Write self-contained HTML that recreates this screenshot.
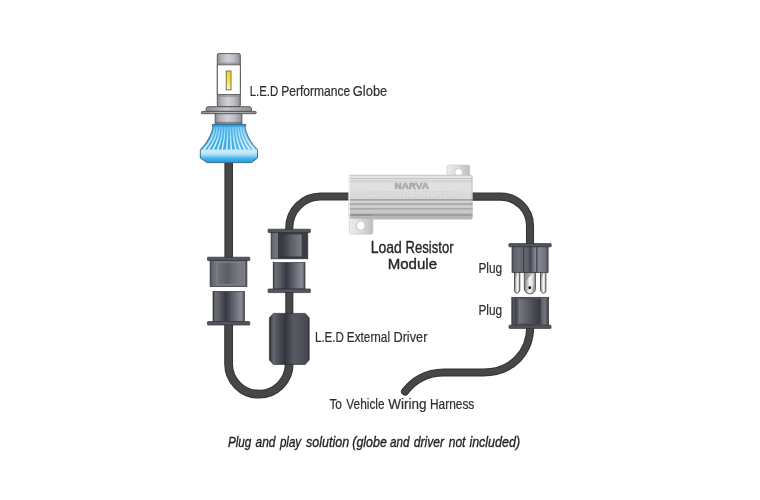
<!DOCTYPE html>
<html lang="en">
<head>
<meta charset="utf-8">
<title>Load Resistor Module wiring diagram</title>
<style>
html,body{margin:0;padding:0;background:#fff;}
body{width:760px;height:500px;overflow:hidden;}
svg{display:block;}
text{font-family:"Liberation Sans",sans-serif;fill:#2e2e2e;}
svg{will-change:transform;}
.lbl text{font-size:15px;stroke:#2e2e2e;stroke-width:0.2px;}
.big text{font-size:16.1px;fill:#262626;stroke:#262626;stroke-width:0.35px;}
.cap text{font-size:15.3px;font-style:italic;fill:#1e1e1e;stroke:#1e1e1e;stroke-width:0.35px;}
</style>
</head>
<body>
<svg width="760" height="500" viewBox="0 0 760 500">
<defs>
  <linearGradient id="gMetal" x1="0" x2="1" y1="0" y2="0">
    <stop offset="0" stop-color="#88888c"/>
    <stop offset="0.15" stop-color="#aeaeb4"/>
    <stop offset="0.45" stop-color="#d0d0d6"/>
    <stop offset="0.7" stop-color="#c0c0c6"/>
    <stop offset="0.88" stop-color="#a4a4aa"/>
    <stop offset="1" stop-color="#8c8c90"/>
  </linearGradient>
  <linearGradient id="gFlange" x1="0" x2="1" y1="0" y2="0">
    <stop offset="0" stop-color="#8a8a8e"/>
    <stop offset="0.45" stop-color="#c2c2c8"/>
    <stop offset="1" stop-color="#8e8e92"/>
  </linearGradient>
  <linearGradient id="gLed" x1="0" x2="0" y1="0" y2="1">
    <stop offset="0" stop-color="#f3d61c"/>
    <stop offset="0.55" stop-color="#f7e455"/>
    <stop offset="1" stop-color="#fdf8c4"/>
  </linearGradient>
  <linearGradient id="gBlueTop" x1="0" x2="1" y1="0" y2="0">
    <stop offset="0" stop-color="#2ea7e7"/>
    <stop offset="0.4" stop-color="#33aae8"/>
    <stop offset="0.7" stop-color="#4db5ec"/>
    <stop offset="1" stop-color="#5dbcee"/>
  </linearGradient>
  <linearGradient id="gStreak" gradientUnits="userSpaceOnUse" x1="0" x2="0" y1="126" y2="149.6">
    <stop offset="0" stop-color="#e4f4fd" stop-opacity="0.35"/>
    <stop offset="0.5" stop-color="#e4f4fd" stop-opacity="0.7"/>
    <stop offset="1" stop-color="#f2fafe" stop-opacity="0.95"/>
  </linearGradient>
  <linearGradient id="gBlueBand" x1="0" x2="0" y1="0" y2="1">
    <stop offset="0" stop-color="#d4effc"/>
    <stop offset="0.28" stop-color="#bfe7fa"/>
    <stop offset="0.48" stop-color="#93d4f6"/>
    <stop offset="0.65" stop-color="#4ab6ec"/>
    <stop offset="0.85" stop-color="#2aa8e6"/>
    <stop offset="1" stop-color="#2a9fe0"/>
  </linearGradient>
  <linearGradient id="gConnA" x1="0" x2="1" y1="0" y2="0">
    <stop offset="0" stop-color="#4a4c54"/>
    <stop offset="0.06" stop-color="#66686f"/>
    <stop offset="0.18" stop-color="#787a82"/>
    <stop offset="0.5" stop-color="#70727a"/>
    <stop offset="0.93" stop-color="#70727a"/>
    <stop offset="1" stop-color="#4a4c54"/>
  </linearGradient>
  <linearGradient id="gConnB" x1="0" x2="1" y1="0" y2="0">
    <stop offset="0" stop-color="#34363c"/>
    <stop offset="0.07" stop-color="#6c6e76"/>
    <stop offset="0.2" stop-color="#5c5e66"/>
    <stop offset="0.41" stop-color="#353843"/>
    <stop offset="0.6" stop-color="#585a64"/>
    <stop offset="0.8" stop-color="#7a7c86"/>
    <stop offset="0.91" stop-color="#888a94"/>
    <stop offset="0.97" stop-color="#62646c"/>
    <stop offset="1" stop-color="#3a3c42"/>
  </linearGradient>
  <linearGradient id="gDriver" x1="0" x2="1" y1="0" y2="0">
    <stop offset="0" stop-color="#2e3036"/>
    <stop offset="0.1" stop-color="#64666e"/>
    <stop offset="0.26" stop-color="#484a52"/>
    <stop offset="0.4" stop-color="#32353f"/>
    <stop offset="0.6" stop-color="#585a64"/>
    <stop offset="0.78" stop-color="#50525a"/>
    <stop offset="0.95" stop-color="#484a52"/>
    <stop offset="1" stop-color="#303238"/>
  </linearGradient>
  <linearGradient id="gInL" x1="0" x2="1" y1="0" y2="0">
    <stop offset="0" stop-color="#70727a"/>
    <stop offset="0.2" stop-color="#666870"/>
    <stop offset="0.38" stop-color="#5c5e66"/>
    <stop offset="0.6" stop-color="#6c6e76"/>
    <stop offset="0.8" stop-color="#787a82"/>
    <stop offset="1" stop-color="#787a82"/>
  </linearGradient>
  <linearGradient id="gConnR" x1="0" x2="1" y1="0" y2="0">
    <stop offset="0" stop-color="#4a4c54"/>
    <stop offset="0.05" stop-color="#6a6c76"/>
    <stop offset="0.18" stop-color="#74767e"/>
    <stop offset="0.2" stop-color="#33353d"/>
    <stop offset="0.83" stop-color="#3c3e46"/>
    <stop offset="1" stop-color="#3a3c44"/>
  </linearGradient>
  <linearGradient id="gInR" x1="0" x2="1" y1="0" y2="0">
    <stop offset="0" stop-color="#33353d"/>
    <stop offset="0.25" stop-color="#3e4048"/>
    <stop offset="0.55" stop-color="#5a5c66"/>
    <stop offset="0.95" stop-color="#787a84"/>
    <stop offset="1" stop-color="#787a84"/>
  </linearGradient>
  <linearGradient id="gPlugL" x1="0" x2="1" y1="0" y2="0">
    <stop offset="0" stop-color="#4a4c54"/>
    <stop offset="0.12" stop-color="#5e6068"/>
    <stop offset="0.5" stop-color="#6c6e78"/>
    <stop offset="1" stop-color="#63656f"/>
  </linearGradient>
  <linearGradient id="gPlugC" x1="0" x2="1" y1="0" y2="0">
    <stop offset="0" stop-color="#6e707a"/>
    <stop offset="0.3" stop-color="#5c5e68"/>
    <stop offset="0.52" stop-color="#454852"/>
    <stop offset="0.75" stop-color="#70727c"/>
    <stop offset="0.95" stop-color="#8c8e98"/>
    <stop offset="1" stop-color="#8c8e98"/>
  </linearGradient>
  <linearGradient id="gPlugR" x1="0" x2="1" y1="0" y2="0">
    <stop offset="0" stop-color="#7c7e88"/>
    <stop offset="0.3" stop-color="#82848e"/>
    <stop offset="0.7" stop-color="#74767f"/>
    <stop offset="0.92" stop-color="#5a5c64"/>
    <stop offset="1" stop-color="#3c3e46"/>
  </linearGradient>
  <linearGradient id="gPlugB" x1="0" x2="1" y1="0" y2="0">
    <stop offset="0" stop-color="#3c3e46"/>
    <stop offset="0.06" stop-color="#585a62"/>
    <stop offset="0.1" stop-color="#3e4048"/>
    <stop offset="0.14" stop-color="#54565e"/>
    <stop offset="0.5" stop-color="#54565e"/>
    <stop offset="0.8" stop-color="#5c5e66"/>
    <stop offset="0.9" stop-color="#74767e"/>
    <stop offset="0.97" stop-color="#50525a"/>
    <stop offset="1" stop-color="#34363c"/>
  </linearGradient>
  <linearGradient id="gInL2" x1="0" x2="1" y1="0" y2="0">
    <stop offset="0" stop-color="#787a84"/>
    <stop offset="0.45" stop-color="#5a5c66"/>
    <stop offset="1" stop-color="#36383f"/>
  </linearGradient>
  <linearGradient id="gRes" gradientUnits="userSpaceOnUse" x1="0" x2="0" y1="174.7" y2="218.5">
    <stop offset="0.0000" stop-color="#c8c8c8"/>
    <stop offset="0.0171" stop-color="#c8c8c8"/>
    <stop offset="0.0285" stop-color="#e4e4e4"/>
    <stop offset="0.0651" stop-color="#e4e4e4"/>
    <stop offset="0.0765" stop-color="#c4c4c4"/>
    <stop offset="0.0879" stop-color="#c4c4c4"/>
    <stop offset="0.0993" stop-color="#e0e0e0"/>
    <stop offset="0.1244" stop-color="#e0e0e0"/>
    <stop offset="0.1358" stop-color="#d4d4d4"/>
    <stop offset="0.1724" stop-color="#d4d4d4"/>
    <stop offset="0.1838" stop-color="#e0e0e0"/>
    <stop offset="0.3619" stop-color="#e0e0e0"/>
    <stop offset="0.3733" stop-color="#dcdcdc"/>
    <stop offset="0.5491" stop-color="#d8d8d8"/>
    <stop offset="0.5605" stop-color="#a4a4a4"/>
    <stop offset="0.5856" stop-color="#a4a4a4"/>
    <stop offset="0.5970" stop-color="#d4d4d4"/>
    <stop offset="0.6450" stop-color="#d4d4d4"/>
    <stop offset="0.6564" stop-color="#acacac"/>
    <stop offset="0.6815" stop-color="#acacac"/>
    <stop offset="0.6929" stop-color="#cccccc"/>
    <stop offset="0.7546" stop-color="#cccccc"/>
    <stop offset="0.7660" stop-color="#a8a8a8"/>
    <stop offset="0.7888" stop-color="#a8a8a8"/>
    <stop offset="0.8002" stop-color="#c8c8c8"/>
    <stop offset="0.8824" stop-color="#c8c8c8"/>
    <stop offset="0.8938" stop-color="#9e9e9e"/>
    <stop offset="0.9418" stop-color="#9e9e9e"/>
    <stop offset="0.9532" stop-color="#b8b8b8"/>
    <stop offset="1.0000" stop-color="#b8b8b8"/>
  </linearGradient>
  <linearGradient id="gTab" x1="0" x2="1" y1="0" y2="0">
    <stop offset="0" stop-color="#ededed"/>
    <stop offset="0.5" stop-color="#dcdcdc"/>
    <stop offset="1" stop-color="#bdbdbd"/>
  </linearGradient>
  <linearGradient id="gPin" x1="0" x2="1" y1="0" y2="0">
    <stop offset="0" stop-color="#7c7c7c"/>
    <stop offset="0.3" stop-color="#c9c9c9"/>
    <stop offset="0.5" stop-color="#fafafa"/>
    <stop offset="0.75" stop-color="#dcdcdc"/>
    <stop offset="1" stop-color="#858585"/>
  </linearGradient>
</defs>
<rect width="760" height="500" fill="#ffffff"/>

<!-- cables -->
<g fill="none" stroke-linecap="butt">
  <g stroke="#343435">
    <path d="M228.7 160 V258" stroke-width="8.6"/>
    <path d="M228.6 323 V363.8 A30.3 30.4 0 0 0 289.2 363.8 V362" stroke-width="8.8"/>
    <path d="M289.3 314 V291" stroke-width="8.1"/>
    <path d="M289.3 230 V227.6 A31.2 31.2 0 0 1 320.5 196.5 H350" stroke-width="8.1"/>
    <path d="M471 196.6 H500.8 A29.2 29.2 0 0 1 530 225.8 V245" stroke-width="8.1"/>
    <path d="M530.2 327 C530 351.5 513 372.4 483 372.4 L444 372.4 C425.5 372.4 412.5 381.5 405 391.6" stroke-width="8.0" stroke-linecap="round"/>
  </g>
  <g stroke="#484748">
    <path d="M228.9 160 V258" stroke-width="6.4"/>
    <path d="M228.6 323 V363.8 A30.3 30.4 0 0 0 289.2 363.8 V362" stroke-width="6.7"/>
    <path d="M289.3 314 V291" stroke-width="6.0"/>
    <path d="M289.3 230 V227.6 A31.2 31.2 0 0 1 320.5 196.5 H350" stroke-width="6.0"/>
    <path d="M471 196.6 H500.8 A29.2 29.2 0 0 1 530 225.8 V245" stroke-width="6.0"/>
    <path d="M530.2 327 C530 351.5 513 372.4 483 372.4 L444 372.4 C425.5 372.4 412.5 381.5 405 391.6" stroke-width="5.9" stroke-linecap="round"/>
  </g>
</g>

<!-- globe -->
<g id="globe">
  <g stroke="#505054" stroke-width="0.9">
    <rect x="217.3" y="53.6" width="23" height="53" rx="1.4" fill="url(#gMetal)"/>
    <rect x="217.3" y="64.8" width="23" height="29.8" fill="#fdfdfd"/>
    <rect x="215.2" y="113.4" width="26.7" height="10.8" fill="url(#gMetal)"/>
    <path d="M207.4 106.7 H250.2 L251.4 108 V111.4 H206.2 V108 Z" fill="url(#gFlange)"/>
    <rect x="201.4" y="111.4" width="54.8" height="2.3" rx="0.8" fill="url(#gFlange)"/>
  </g>
  <rect x="217.8" y="62.6" width="22" height="1.8" fill="#808084" opacity="0.55"/>
  <rect x="217.8" y="95" width="22" height="2" fill="#808084" opacity="0.5"/>
  <rect x="215.7" y="121.8" width="25.7" height="2" fill="#606064" opacity="0.6"/>
  <rect x="226.2" y="71" width="4.8" height="18.8" fill="url(#gLed)" stroke="#5a5738" stroke-width="0.8"/>
  <!-- blue heat sink -->
  <path d="M212.5 124.4 H245.6 V126.4 H244.8 C246 133 249.6 140.6 254.4 146.4 L257.5 149.4 V158 L251.6 162.6 H207 L200.3 158 V149.4 L203.4 146.4 C208.2 140.6 212 133 213.2 126.4 H212.5 Z" fill="url(#gBlueTop)"/>
  <g fill="none" stroke="url(#gStreak)" stroke-linecap="butt">
    <path d="M214.8 126.6 C214.2 135 209.8 143 203.6 149.6" stroke-width="1.75"/>
    <path d="M217.4 126.6 C216.9 135 213.3 143 208.2 149.6" stroke-width="1.70"/>
    <path d="M220.0 126.6 C219.6 135 216.8 143 212.8 149.6" stroke-width="1.66"/>
    <path d="M222.5 126.6 C222.3 135 220.3 143 217.5 149.6" stroke-width="1.61"/>
    <path d="M225.1 126.6 C225.0 135 223.8 143 222.1 149.6" stroke-width="1.57"/>
    <path d="M227.7 126.6 C227.7 135 227.3 143 226.7 149.6" stroke-width="1.52"/>
    <path d="M230.3 126.6 C230.3 135 230.7 143 231.3 149.6" stroke-width="1.52"/>
    <path d="M232.9 126.6 C233.0 135 234.2 143 235.9 149.6" stroke-width="1.57"/>
    <path d="M235.5 126.6 C235.7 135 237.7 143 240.5 149.6" stroke-width="1.61"/>
    <path d="M238.0 126.6 C238.4 135 241.2 143 245.2 149.6" stroke-width="1.66"/>
    <path d="M240.6 126.6 C241.1 135 244.7 143 249.8 149.6" stroke-width="1.70"/>
    <path d="M243.2 126.6 C243.8 135 248.2 143 254.4 149.6" stroke-width="1.75"/>
  </g>
  <rect x="212.5" y="124.4" width="33.1" height="2.2" fill="#29a3e6"/>
  <path d="M200.3 149.4 H257.5 V158 L251.6 162.6 H207 L200.3 158 Z" fill="url(#gBlueBand)"/>
  <path d="M212.5 124.4 H245.6 V126.4 H244.8 C246 133 249.6 140.6 254.4 146.4 L257.5 149.4 V158 L251.6 162.6 H207 L200.3 158 V149.4 L203.4 146.4 C208.2 140.6 212 133 213.2 126.4 H212.5 Z" fill="none" stroke="#3f6480" stroke-width="0.9" stroke-linejoin="round"/>
</g>

<!-- left connector -->
<g stroke="#303137" stroke-width="0.7">
  <rect x="207.5" y="257.2" width="42.3" height="3.4" rx="0.6" fill="#54565e"/>
  <rect x="210.1" y="260.6" width="36.8" height="26" fill="url(#gConnA)"/>
  <rect x="217" y="262.6" width="27.6" height="21.6" fill="url(#gInL)" stroke="#8a8c94" stroke-width="0.5"/>
  <rect x="213" y="291.4" width="31.4" height="30.2" fill="url(#gConnB)"/>
  <rect x="207.5" y="321.6" width="42.3" height="3.4" rx="0.6" fill="#54565e"/>
</g>
<!-- right connector -->
<g stroke="#303137" stroke-width="0.7">
  <rect x="268.1" y="229.2" width="42.3" height="3.4" rx="0.6" fill="#54565e"/>
  <rect x="271.1" y="232.6" width="36.7" height="26.2" fill="url(#gConnR)"/>
  <rect x="278.1" y="234.4" width="23.6" height="22" fill="url(#gInR)" stroke="none"/>
  <rect x="273.2" y="262.6" width="31.8" height="26.4" fill="url(#gConnB)"/>
  <rect x="268.1" y="289" width="42.3" height="3.6" rx="0.6" fill="#54565e"/>
</g>
<!-- driver -->
<path d="M273.4 313.4 H305.2 L309.2 317.8 V360 L305.2 364.4 H273.4 L269.4 360 V317.8 Z" fill="url(#gDriver)" stroke="#303137" stroke-width="0.7"/>

<!-- resistor -->
<g id="resistor">
  <rect x="446.9" y="165" width="22.8" height="14" rx="2" fill="url(#gTab)" stroke="#c6c6c6" stroke-width="0.6"/>
  <circle cx="458.6" cy="172.4" r="4" fill="#fff" stroke="#b9b9b9" stroke-width="0.7"/>
  <rect x="349.3" y="214" width="23.6" height="20.2" rx="2" fill="url(#gTab)" stroke="#c6c6c6" stroke-width="0.6"/>
  <ellipse cx="360.8" cy="225.6" rx="4.3" ry="4.6" fill="#fff" stroke="#b3b3b3" stroke-width="0.7"/>
  <path d="M348.5 174.7 H470.4 Q472.6 174.9 472.6 177.2 V217.2 Q472.6 219.4 470.4 219.4 H375 L348.5 218.6 Z" fill="url(#gRes)"/>
  <rect x="348.5" y="174.9" width="1.5" height="43.4" fill="#f4f4f4" opacity="0.8"/>
  <rect x="471.4" y="176" width="1.2" height="41.5" fill="#b0b0b0" opacity="0.5"/>
  <rect x="351.5" y="214" width="20" height="1.8" fill="#8c8c8c" opacity="0.6"/>
  <text x="411.7" y="189.1" text-anchor="middle" font-size="9.6" font-weight="bold" style="fill:#acacac;stroke:#acacac;stroke-width:0.7px;stroke-linejoin:round" textLength="34.3" lengthAdjust="spacingAndGlyphs">NARVA</text>
  <text x="412.3" y="197.3" text-anchor="middle" font-size="6.4" style="fill:#f4f4f4;stroke:#b8b8b8;stroke-width:0.5px;paint-order:stroke;font-family:'Liberation Mono',monospace" textLength="84" lengthAdjust="spacingAndGlyphs">12V 50W LOAD RESISTOR</text>
</g>

<!-- plug top -->
<g id="plugTop">
  <g stroke="#48484c" stroke-width="0.9" stroke-linejoin="round">
    <path d="M514.5 271 H519.8 V289.4 C519.6 291.6 518.4 293.2 516.8 293.3 C515.2 293.2 514.5 291.4 514.5 289.6 Z" fill="url(#gPin)"/>
    <path d="M524.3 271 H535.4 V288.4 A5.55 5.5 0 0 1 524.3 288.4 Z" fill="url(#gPin)"/>
    <path d="M540.5 271 H545.9 V289.6 C545.9 291.4 545.2 293.2 543.6 293.3 C542 293.2 540.7 291.6 540.5 289.4 Z" fill="url(#gPin)"/>
  </g>
  <path d="M524.8 273 H532.6 L524.8 282 Z" fill="#8e8e92" opacity="0.75"/>
  <path d="M535 280 V288.4 A5.2 5.2 0 0 1 531 293.2 Z" fill="#9a9a9e" opacity="0.6"/>
  <path d="M515 273 H517.6 L515 280 Z" fill="#8e8e92" opacity="0.7"/>
  <path d="M541 273 H543.6 L541 280 Z" fill="#8e8e92" opacity="0.7"/>
  <circle cx="529.8" cy="287.8" r="1.45" fill="#111"/>
  <g stroke="#303137" stroke-width="0.7">
    <rect x="508.9" y="243.6" width="42.3" height="3.2" rx="0.6" fill="#54565e"/>
    <rect x="512" y="246.8" width="11.6" height="25.6" fill="url(#gPlugL)"/>
    <rect x="536.8" y="246.8" width="11.3" height="25.6" fill="url(#gPlugR)"/>
    <rect x="523.8" y="246.8" width="13" height="25.6" fill="url(#gPlugC)" stroke="#34353b" stroke-width="0.9"/>
  </g>
</g>
<!-- plug bottom -->
<g stroke="#303137" stroke-width="0.7">
  <rect x="511.8" y="297.3" width="36.8" height="28" fill="url(#gPlugB)"/>
  <rect x="518" y="298.9" width="22.6" height="25" fill="url(#gInL2)" stroke="#3a3c42" stroke-width="0.4"/>
  <rect x="509" y="325.2" width="42" height="3.2" rx="0.6" fill="#54565e"/>
</g>

<!-- labels -->
<g class="lbl">
  <text x="249.72" y="95.5" textLength="28.37" lengthAdjust="spacingAndGlyphs">L.E.D</text>
  <text x="281.16" y="95.5" textLength="69.04" lengthAdjust="spacingAndGlyphs">Performance</text>
  <text x="352.85" y="95.5" textLength="34.37" lengthAdjust="spacingAndGlyphs">Globe</text>
  <text x="478.39" y="272.5" textLength="23.84" lengthAdjust="spacingAndGlyphs">Plug</text>
  <text x="478.39" y="314.5" textLength="23.84" lengthAdjust="spacingAndGlyphs">Plug</text>
  <text x="314.97" y="342.4" textLength="28.95" lengthAdjust="spacingAndGlyphs">L.E.D</text>
  <text x="346.87" y="342.4" textLength="43.13" lengthAdjust="spacingAndGlyphs">External</text>
  <text x="393.44" y="342.4" textLength="33.94" lengthAdjust="spacingAndGlyphs">Driver</text>
  <text x="329.40" y="408.9" textLength="12.59" lengthAdjust="spacingAndGlyphs">To</text>
  <text x="346.37" y="408.9" textLength="38.23" lengthAdjust="spacingAndGlyphs">Vehicle</text>
  <text x="388.29" y="408.9" textLength="38.23" lengthAdjust="spacingAndGlyphs">Wiring</text>
  <text x="430.01" y="408.9" textLength="44.30" lengthAdjust="spacingAndGlyphs">Harness</text>
</g>
<g class="big">
  <text x="370.72" y="252.8" textLength="31.11" lengthAdjust="spacingAndGlyphs">Load</text>
  <text x="405.60" y="252.8" textLength="47.97" lengthAdjust="spacingAndGlyphs">Resistor</text>
  <text x="387.70" y="269.0" textLength="49.36" lengthAdjust="spacingAndGlyphs" style="font-size:14.6px">Module</text>
</g>
<g class="cap">
  <text x="227.89" y="447.1" textLength="23.42" lengthAdjust="spacingAndGlyphs">Plug</text>
  <text x="255.50" y="447.1" textLength="19.95" lengthAdjust="spacingAndGlyphs">and</text>
  <text x="279.92" y="447.1" textLength="21.26" lengthAdjust="spacingAndGlyphs">play</text>
  <text x="306.04" y="447.1" textLength="43.05" lengthAdjust="spacingAndGlyphs">solution</text>
  <text x="352.30" y="447.1" textLength="34.55" lengthAdjust="spacingAndGlyphs">(globe</text>
  <text x="390.01" y="447.1" textLength="19.42" lengthAdjust="spacingAndGlyphs">and</text>
  <text x="413.67" y="447.1" textLength="30.41" lengthAdjust="spacingAndGlyphs">driver</text>
  <text x="448.78" y="447.1" textLength="16.66" lengthAdjust="spacingAndGlyphs">not</text>
  <text x="469.38" y="447.1" textLength="50.69" lengthAdjust="spacingAndGlyphs">included)</text>
</g>
</svg>
</body>
</html>
